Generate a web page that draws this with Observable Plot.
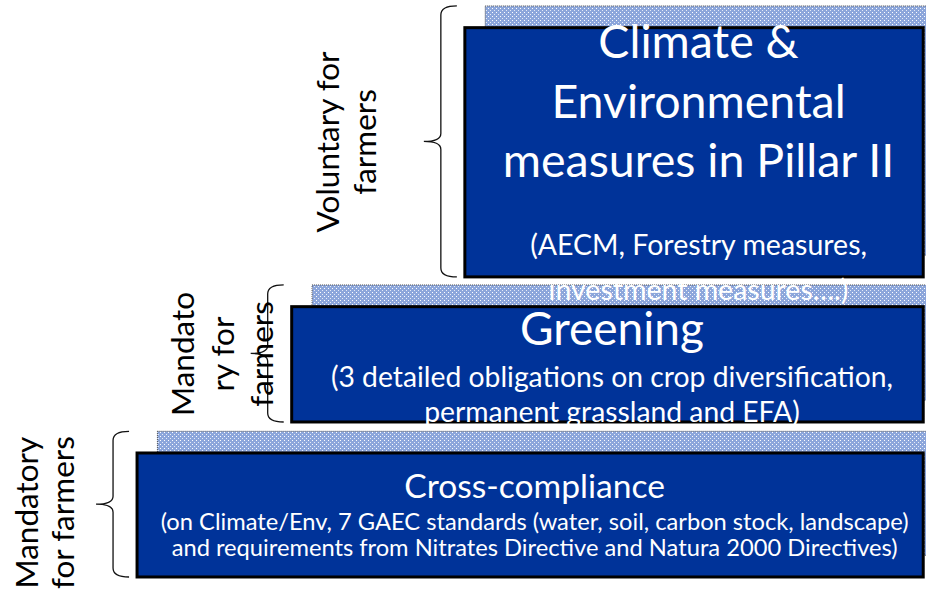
<!DOCTYPE html>
<html><head><meta charset="utf-8">
<script src="https://cdn.jsdelivr.net/npm/d3@7"></script>
<script src="https://cdn.jsdelivr.net/npm/@observablehq/plot@0.6"></script>
<style>html,body{margin:0;padding:0;background:#fff;overflow:hidden}</style>
</head><body><div id="chart"></div>
<script>
// ---- diagram content ----
const tierNames = ["Cross-compliance", "Greening", "Climate & Environmental measures in Pillar II"];
const titleText = ["Cross-compliance", "Greening", "Climate &\nEnvironmental\nmeasures in Pillar II"];
const detailText = [
  "(on Climate/Env, 7 GAEC standards (water, soil, carbon stock, landscape)\nand requirements from Nitrates Directive and Natura 2000 Directives)",
  "(3 detailed obligations on crop diversification,\npermanent grassland and EFA)",
  "(AECM, Forestry measures,\ninvestment measures….)"
];
const obligationText = ["Mandatory\nfor farmers", "Mandato\nry for\nfarmers", "Voluntary for\nfarmers"];
// stack extent of each tier (stack units) and where each tier begins (share of width, %)
const tierBase = [0, 1.25, 2.42];
const tierTop = [1, 2.18, 4.43];
const tierStart = [14.8, 31.5, 50.2];
const tierEnd = 99.7;

const rows = tierNames.map((name, i) => ({i, name, base: tierBase[i], top: tierTop[i], start: tierStart[i]}));

// ---- style constants ----
const SHX = 2.2, SHY = 0.175;
const FONT = "Lato, 'Open Sans', sans-serif";
const titleStyle = [
  {fs: 33.6, lh: 1.2, dy: 45},
  {fs: 46, lh: 1.2, dy: 38},
  {fs: 46.5, lh: 1.28, dy: 149}
];
const detailStyle = [
  {fs: 23.7, lh: 1.13, dy: -21},
  {fs: 28.3, lh: 1.24, dy: 0},
  {fs: 28.5, lh: 1.58, dy: 23}
];
const labelStyle = [
  {lh: 1.15, dx: -93, dy: 8},
  {lh: 1.25, dx: -71, dy: 0},
  {lh: 1.18, dx: -120, dy: 0}
];

const defs = () => {
  const d = d3.create("svg:defs");
  const p = d.append("pattern").attr("id", "dots").attr("width", 4).attr("height", 4).attr("patternUnits", "userSpaceOnUse");
  p.append("rect").attr("width", 4).attr("height", 4).attr("fill", "#8CA6DB");
  p.append("rect").attr("width", 1).attr("height", 1).attr("fill", "#ffffff");
  p.append("rect").attr("x", 2).attr("y", 2).attr("width", 1).attr("height", 1).attr("fill", "#e4eaf7");
  return d.node();
};

const braces = (index, scales) => {
  const g = d3.create("svg:g").attr("fill", "none").attr("stroke", "#111").attr("stroke-width", 1.3);
  for (const d of rows) {
    const x0 = scales.x(d.start);
    const yt = scales.y(d.top + SHY), yb = scales.y(d.base), ym = (yt + yb) / 2;
    const hx = x0 - 8, vx = x0 - 24, tx = x0 - 41, r = 9;
    const p = d3.path();
    p.moveTo(hx, yt);
    p.quadraticCurveTo(vx, yt, vx, yt + r);
    p.lineTo(vx, ym - 8);
    p.quadraticCurveTo(vx, ym, tx, ym);
    p.quadraticCurveTo(vx, ym, vx, ym + 8);
    p.lineTo(vx, yb - r);
    p.quadraticCurveTo(vx, yb, hx, yb);
    g.append("path").attr("d", p.toString());
  }
  return g.node();
};

const textMarks = [];
rows.forEach((d, i) => {
  textMarks.push(Plot.text([d], {
    x: r => (r.start + tierEnd) / 2, y: r => r.top, text: r => titleText[r.i],
    lineAnchor: "bottom", dy: titleStyle[i].dy, dx: 4, fontSize: titleStyle[i].fs,
    lineHeight: titleStyle[i].lh, fill: "white"
  }));
  textMarks.push(Plot.text([d], {
    x: r => (r.start + tierEnd) / 2, y: r => r.base, text: r => detailText[r.i],
    lineAnchor: "bottom", dy: detailStyle[i].dy, dx: 4, fontSize: detailStyle[i].fs,
    lineHeight: detailStyle[i].lh, fill: "white"
  }));
  textMarks.push(Plot.text([d], {
    x: r => r.start, y: r => (r.top + SHY + r.base) / 2, text: r => obligationText[r.i],
    rotate: -90, lineAnchor: "middle", textAnchor: "middle", dx: labelStyle[i].dx, dy: labelStyle[i].dy,
    fontSize: 31.5, lineHeight: labelStyle[i].lh, fill: "black"
  }));
});

const chart = Plot.plot({
  width: 926, height: 591, margin: 0,
  x: {domain: [0, 100], axis: null},
  y: {domain: [-0.113, 4.653], axis: null},
  style: {background: "white", fontFamily: FONT, overflow: "hidden"},
  marks: [
    defs,
    Plot.rect(rows, {x1: d => d.start + SHX, x2: () => 103, y1: d => d.base + SHY, y2: d => d.top + SHY,
      fill: "url(#dots)", stroke: "#555", strokeWidth: 1, strokeDasharray: "1,1"}),
    Plot.rect(rows, {x1: d => d.start, x2: () => tierEnd, y1: d => d.base, y2: d => d.top,
      fill: "#003399", stroke: "black", strokeWidth: 3}),
    braces,
    ...textMarks
  ]
});
document.getElementById("chart").appendChild(chart);
</script>
</body></html>
